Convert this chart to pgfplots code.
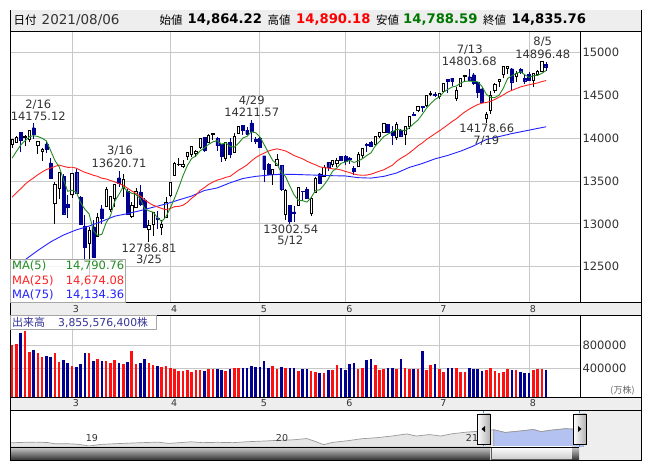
\documentclass[border=0pt]{standalone}
\usepackage{pgfplots}
\pgfplotsset{compat=1.18}
\usepackage{pgfplotstable}
\usepackage{fontspec}
\setmainfont{DejaVu Sans}
\newfontfamily\jp{Noto Sans CJK JP}
\definecolor{cnavy}{HTML}{000091}
\definecolor{vred}{HTML}{FF1010}
\definecolor{gridc}{HTML}{C8C8C8}
\definecolor{stripg}{HTML}{EEEEEE}
\definecolor{maG}{HTML}{228B22}
\definecolor{maR}{HTML}{FF2222}
\definecolor{maB}{HTML}{2222FF}
\definecolor{txtg}{HTML}{333333}
\definecolor{volt}{HTML}{333399}
\definecolor{hiR}{HTML}{FF0000}
\definecolor{loG}{HTML}{007700}
\definecolor{navfill}{HTML}{E6E6E6}
\definecolor{navline}{HTML}{999999}
\definecolor{navblue}{HTML}{B4C2F2}
\definecolor{navedge}{HTML}{3399DD}
\newcommand{\fs}[1]{\fontsize{#1}{#1}\selectfont}

% up candles (close >= open): index, open, high, low, close, volume (10k shares)
\pgfplotstableread{
i o h l c v
0 13929 13993 13887 13988 807000
1 13953 14032 13951 14008 824000
3 14007 14036 13904 14026 1047000
4 13988 14096 13951 14095 692000
6 13915 13966 13820 13965 664000
7 13848 13887 13738 13865 606000
10 13238 13490 13003 13465 664000
11 13413 13598 13289 13598 520000
14 13339 13594 13307 13589 446000
18 12777 12961 12397 12920 664000
20 12854 13129 12851 13074 566000
22 13206 13434 13206 13399 532000
23 13174 13320 13142 13320 503000
24 13300 13460 13198 13460 549000
26 13413 13577 13320 13525 480000
28 13088 13260 13072 13215 704000
29 13194 13423 13185 13378 480000
32 12930 13040 12786.81 12978 492000
33 12994 13142 12855 13139 463000
35 12960 13048 12865 12996 434000
36 13075 13313 13074 13247 446000
37 13327 13481 13320 13480 417000
38 13568 13720 13567 13706 389000
39 13690 13772 13678 13698 360000
40 13677 13743 13654 13689 360000
41 13789 13842 13752 13829 377000
42 13812 13900 13779 13900 343000
43 13824 13868 13787 13850 377000
44 13894 13998 13878 13996 377000
46 13947 14049 13946 14039 395000
47 14040 14062 13976 14052 395000
50 13769 13953 13735 13950 360000
52 13832 14061 13826 14017 406000
53 14051 14146 14047 14139 412000
61 13574 13640 13452 13633 446000
62 13688 13815 13687 13752 400000
64 13109 13407 13046 13389 417000
67 13213 13431 13209 13430 360000
70 13124 13309 13096 13300 366000
71 13363 13552 13361 13536 338000
73 13554 13687 13553 13661 331000
75 13691 13750 13667 13738 377000
76 13702 13770 13666 13736 463000
81 13676 13836 13676 13814 395000
82 13797 13888 13770 13882 420000
85 13924 14024 13910 14020 463000
86 14018 14076 14000 14069 377000
87 14064 14176 14057 14174 395000
90 14011 14191 13980 14161 395000
92 14041 14142 13920 14141 412000
93 14144 14263 14107 14253 395000
95 14326 14370 14303 14370 395000
97 14380 14506 14370 14501 377000
98 14514 14548 14488 14528 463000
100 14493 14523 14458 14522 395000
101 14546 14645 14546 14639 343000
104 14466 14596 14434 14560 412000
105 14607 14707 14597 14702 343000
106 14720 14741 14667 14733 343000
111 14233 14311 14178.66 14275 377000
112 14323 14555 14288 14499 412000
113 14554 14641 14533 14632 360000
114 14664 14685 14602 14685 326000
115 14740 14840 14703 14837 343000
116 14820 14847 14753 14841 395000
118 14725 14782 14661 14763 377000
122 14672 14761 14599 14761 377000
123 14740 14794 14729 14781 395000
124 14781 14896.48 14771 14895 395000
}\up

% down candles (close < open)
\pgfplotstableread{
i o h l c v
2 14067 14068 13836 13973 1018000
5 14124 14175.12 13997 14048 721000
8 13936 13969 13831 13874 618000
9 13712 13771 13527 13533 606000
12 13559 13588 13108 13119 549000
13 13229 13342 13071 13192 492000
15 13601 13640 13359 13359 434000
16 13312 13327 12994 12998 480000
17 12973 13099 12554 12723 664000
19 12967 13046 12609 12609 532000
21 13178 13225 12996 13069 532000
25 13540 13620.71 13434 13472 503000
27 13378 13408 13114 13116 520000
30 13373 13460 13213 13228 492000
31 13283 13299 12954 12962 566000
34 13073 13148 12938 13060 446000
45 14011 14014 13841 13858 366000
48 13999 14017 13852 13915 395000
49 13927 13931 13725 13786 377000
51 13956 14005 13766 13818 400000
54 14151 14154 14042 14090 412000
55 14095 14136 14034 14051 412000
56 14180 14211.57 13962 14083 446000
57 13990 14010 13930 13963 429000
58 14001 14016 13882 13895 429000
59 13796 13796 13485 13634 532000
60 13693 13710 13570 13582 417000
63 13682 13685 13389 13402 429000
65 13217 13224 13002.54 13032 412000
66 13140 13211 13028 13125 412000
68 13384 13385 13262 13379 389000
69 13401 13436 13303 13304 389000
72 13586 13592 13466 13471 321000
74 13718 13719 13617 13657 377000
77 13792 13798 13735 13749 406000
78 13792 13803 13683 13736 377000
79 13770 13780 13701 13756 480000
80 13649 13678 13575 13615 492000
83 13930 13943 13841 13925 549000
84 13954 13966 13904 13912 566000
88 14163 14168 14060 14073 412000
89 14078 14138 13927 14040 412000
91 14091 14105 14016 14030 566000
94 14281 14308 14260 14272 395000
96 14373 14374 14305 14360 704000
99 14518 14537 14479 14504 480000
102 14685 14686 14527 14664 412000
103 14702 14704 14605 14665 412000
107 14719 14803.68 14676 14678 412000
108 14742 14762 14625 14645 395000
109 14656 14663 14474 14543 395000
110 14579 14601 14419 14427 360000
117 14812 14822 14552 14661 377000
119 14808 14817 14755 14778 343000
120 14700 14741 14639 14673 326000
121 14748 14777 14666 14681 326000
125 14864.22 14890.18 14788.59 14835.76 385557
}\dn

% moving averages 5 and 25
\pgfplotstableread{
i m5 m25
0 13769 13312
1 13848 13364
2 13921 13410
3 13970 13462
4 14018 13503
5 14030 13537
6 14021 13574
7 14000 13606
8 13969 13635
9 13857 13652
10 13740 13671
11 13667 13687
12 13518 13673
13 13381 13660
14 13393 13662
15 13371 13651
16 13251 13625
17 13172 13603
18 13118 13587
19 12922 13568
20 12865 13555
21 12879 13533
22 13014 13525
23 13094 13507
24 13264 13491
25 13344 13470
26 13435 13451
27 13379 13417
28 13358 13384
29 13341 13355
30 13292 13323
31 13180 13282
32 13152 13247
33 13137 13218
34 13073 13199
35 13027 13180
36 13084 13166
37 13184 13180
38 13298 13201
39 13425 13205
40 13564 13218
41 13680 13252
42 13764 13299
43 13793 13336
44 13853 13391
45 13887 13423
46 13929 13462
47 13959 13488
48 13972 13512
49 13930 13525
50 13948 13544
51 13904 13555
52 13897 13591
53 13942 13628
54 14003 13657
55 14023 13690
56 14076 13735
57 14065 13774
58 14016 13804
59 13925 13827
60 13831 13851
61 13741 13866
62 13699 13877
63 13601 13865
64 13552 13852
65 13442 13826
66 13340 13798
67 13276 13779
68 13271 13760
69 13254 13733
70 13308 13710
71 13390 13690
72 13398 13667
73 13454 13657
74 13525 13652
75 13613 13643
76 13653 13640
77 13708 13629
78 13723 13613
79 13743 13600
80 13718 13582
81 13734 13572
82 13761 13568
83 13798 13570
84 13830 13581
85 13911 13598
86 13962 13616
87 14020 13632
88 14050 13659
89 14075 13685
90 14103 13731
91 14096 13767
92 14089 13795
93 14125 13830
94 14171 13869
95 14213 13912
96 14279 13945
97 14351 13986
98 14406 14020
99 14453 14054
100 14483 14086
101 14539 14122
102 14571 14158
103 14599 14196
104 14610 14228
105 14646 14271
106 14665 14308
107 14668 14340
108 14664 14369
109 14660 14394
110 14605 14410
111 14514 14418
112 14478 14431
113 14475 14454
114 14504 14480
115 14586 14507
116 14699 14539
117 14731 14560
118 14757 14580
119 14776 14600
120 14743 14613
121 14711 14625
122 14731 14636
123 14735 14646
124 14758 14662
125 14790.76 14674.08
}\ma

% moving average 75 (read every third session)
\pgfplotstableread{
i m75
0 12480
3 12580
6 12690
9 12790
12 12870
15 12930
18 12975
21 13030
24 13090
27 13120
30 13155
33 13195
36 13233
39 13280
42 13325
45 13390
48 13420
51 13480
54 13530
57 13555
60 13570
63 13580
66 13578
69 13573
72 13568
75 13563
78 13560
81 13540
84 13535
87 13555
90 13595
93 13660
96 13705
99 13760
102 13800
105 13850
108 13910
111 13985
114 14020
117 14055
120 14085
123 14115
125 14134.36
}\mab

% navigator (long-term)
\pgfplotstableread{
t y
2018.56 7750
2018.62 7950
2018.70 8100
2018.76 7900
2018.80 7300
2018.86 7350
2018.92 7100
2018.98 6250
2019.04 7000
2019.12 7350
2019.20 7650
2019.28 7900
2019.34 8100
2019.40 7500
2019.46 7850
2019.52 8250
2019.58 7850
2019.66 8000
2019.74 7850
2019.82 8300
2019.90 8600
2019.98 8950
2020.06 9200
2020.13 9800
2020.17 8600
2020.22 6900
2020.27 8000
2020.35 8800
2020.42 9700
2020.50 10200
2020.58 11000
2020.66 12000
2020.71 11000
2020.78 11700
2020.84 11000
2020.90 12100
2020.98 12900
2021.06 13400
2021.12 14000
2021.18 12700
2021.25 13300
2021.33 14100
2021.37 13100
2021.42 13750
2021.50 14500
2021.55 14250
2021.60 14840
}\nav

\pgfplotsset{
  pbase/.style={at={(10pt,168pt)}, anchor=south west, scale only axis,
    width=570pt, height=271pt, xmin=-0.515, xmax=132.94, ymin=12088, ymax=15253},
}

\begin{document}
\begin{tikzpicture}[x=1pt,y=1pt]
% backgrounds
\fill[white] (0,0) rectangle (653,470);
\fill[stripg] (10,10) rectangle (641,460);
\fill[white] (10,168) rectangle (641,439);
\fill[white] (10,73) rectangle (641,155);
\fill[white] (10,23) rectangle (579,60);

% ---------- price panel: grid, ticks, wicks
\begin{axis}[pbase, axis line style={draw=none}, major tick length=0pt,
  scaled y ticks=false,
  xtick={14,37,58,78,100,121}, xticklabels={3,4,5,6,7,8},
  xticklabel style={font=\fs{9.5}, text=txtg, anchor=center, yshift=-7pt, xshift=4pt},
  ytick={12500,13000,13500,14000,14500,15000},
  yticklabels={12500,13000,13500,14000,14500,15000},
  yticklabel pos=right,
  yticklabel style={font=\fs{11.5}, text=txtg, anchor=west, xshift=-1pt},
  grid=major, grid style={gridc, line width=0.9pt}]
\addplot[draw=none, mark=none, error bars/.cd, y dir=plus, y explicit, error mark=none,
  error bar style={draw=black, line width=0.9pt}]
  table[x=i, y=l, y error plus expr=\thisrow{h}-\thisrow{l}] {\up};
\addplot[draw=none, mark=none, error bars/.cd, y dir=plus, y explicit, error mark=none,
  error bar style={draw=cnavy, line width=0.9pt}]
  table[x=i, y=l, y error plus expr=\thisrow{h}-\thisrow{l}] {\dn};
\end{axis}

% ---------- up bodies (hollow)
\begin{axis}[pbase, hide axis, ybar stacked, bar width=2.3pt]
\addplot[draw=none, fill=none] table[x=i, y=o] {\up};
\addplot[draw=black, fill=white, line width=0.85pt] table[x=i, y expr=\thisrow{c}-\thisrow{o}] {\up};
\end{axis}

% ---------- down bodies (filled)
\begin{axis}[pbase, hide axis, ybar stacked, bar width=2.9pt]
\addplot[draw=none, fill=none] table[x=i, y=c] {\dn};
\addplot[draw=cnavy, fill=cnavy, line width=0.3pt] table[x=i, y expr=\thisrow{o}-\thisrow{c}] {\dn};
\end{axis}

% ---------- moving averages
\begin{axis}[pbase, hide axis]
\addplot[maB, line width=0.9pt, mark=none] table[x=i, y=m75] {\mab};
\addplot[maR, line width=0.9pt, mark=none] table[x=i, y=m25] {\ma};
\addplot[maG, line width=0.9pt, mark=none] table[x=i, y=m5] {\ma};
\end{axis}

% ---------- volume panel
\begin{axis}[at={(10pt,73pt)}, anchor=south west, scale only axis, width=570pt, height=82pt,
  xmin=-0.515, xmax=132.94, ymin=-85800, ymax=1321900,
  axis line style={draw=none}, major tick length=0pt, scaled y ticks=false,
  xtick={14,37,58,78,100,121}, xticklabels={3,4,5,6,7,8},
  xticklabel style={font=\fs{9.5}, text=txtg, anchor=center, yshift=-6.5pt, xshift=4pt},
  ytick={400000,800000}, yticklabels={400000,800000},
  yticklabel pos=right,
  yticklabel style={font=\fs{11.5}, text=txtg, anchor=west, xshift=-1pt},
  grid=major, grid style={gridc, line width=0.9pt}]
\addplot[draw=none, mark=none, error bars/.cd, y dir=minus, y explicit, error mark=none,
  error bar style={draw=vred, line width=2.6pt}]
  table[x=i, y=v, y error minus expr=\thisrow{v}+85800] {\up};
\addplot[draw=none, mark=none, error bars/.cd, y dir=minus, y explicit, error mark=none,
  error bar style={draw=cnavy, line width=2.6pt}]
  table[x=i, y=v, y error minus expr=\thisrow{v}+85800] {\dn};
\end{axis}

% ---------- navigator
\begin{axis}[at={(10pt,23pt)}, anchor=south west, scale only axis, width=631pt, height=34pt,
  xmin=2018.561, xmax=2021.899, ymin=5773, ymax=21995, hide axis]
\addplot[fill=navfill, draw=navline, line width=0.7pt, mark=none] table[x=t, y=y] {\nav} \closedcycle;
\addplot[fill=navblue, draw=navline, line width=0.7pt, mark=none, restrict x to domain=2021.105:2021.7]
  table[x=t, y=y] {\nav} \closedcycle;
\end{axis}
\fill[white] (10,57) rectangle (579,60);
\fill[stripg] (584,23) rectangle (641,60);
\draw[navedge, line width=0.8pt] (483,23) -- (483,60);
\draw[navedge, line width=0.8pt] (579,23) -- (579,60);
\node[font=\fs{9.5}, text=txtg] at (92,32) {19};
\node[font=\fs{9.5}, text=txtg] at (282,32) {20};
\node[font=\fs{9.5}, text=txtg] at (472,32) {21};
% handles
\shade[left color=white, right color=gray!60, draw=black, line width=0.6pt] (477,26) rectangle (490,56);
\shade[left color=white, right color=gray!60, draw=black, line width=0.6pt] (573,26) rectangle (586,56);
\fill[black] (481.5,41) -- (485,44) -- (485,38) -- cycle;
\fill[black] (581.5,41) -- (578,44) -- (578,38) -- cycle;
% scrollbar
\shade[top color=gray!40, bottom color=black!80] (10,10) rectangle (490,23);
\shade[top color=white, bottom color=gray!40, draw=gray!70!black] (491,11) rectangle (572,23);
\shade[top color=gray!40, bottom color=black!80] (572,10) rectangle (579,23);
\draw[black, line width=0.6pt] (10,23) -- (579,23);

% ---------- frame lines
\draw[black, line width=0.9pt] (10,10) rectangle (641,460);
\draw[black, line width=0.8pt] (10,439) -- (641,439);
\draw[black, line width=0.8pt] (10,168) -- (641,168);
\draw[black, line width=0.8pt] (10,155) -- (641,155);
\draw[black, line width=0.8pt] (10,73) -- (641,73);
\draw[black, line width=0.8pt] (10,60) -- (641,60);
\draw[black, line width=0.8pt] (580,168) -- (580,439);
\draw[black, line width=0.8pt] (580,73) -- (580,155);

% ---------- header
\fill[stripg] (10.5,439.5) rectangle (640.5,459.5);
\node[anchor=west, inner sep=0pt, font=\jp\fs{11.5}] at (13.5,450) {日付};
\node[anchor=west, inner sep=0pt, font=\fs{13.5}, text=txtg] at (41.5,450) {2021/08/06};
\node[anchor=west, inner sep=0pt, font=\jp\fs{11.5}] at (159.5,450) {始値};
\node[anchor=west, inner sep=0pt, font=\bfseries\fs{13.2}] at (187.5,450) {14,864.22};
\node[anchor=west, inner sep=0pt, font=\jp\fs{11.5}] at (267.5,450) {高値};
\node[anchor=west, inner sep=0pt, font=\bfseries\fs{13.2}, text=hiR] at (296,450) {14,890.18};
\node[anchor=west, inner sep=0pt, font=\jp\fs{11.5}] at (376,450) {安値};
\node[anchor=west, inner sep=0pt, font=\bfseries\fs{13.2}, text=loG] at (403,450) {14,788.59};
\node[anchor=west, inner sep=0pt, font=\jp\fs{11.5}] at (483,450) {終値};
\node[anchor=west, inner sep=0pt, font=\bfseries\fs{13.2}] at (511.5,450) {14,835.76};

% ---------- annotations
\begin{scope}[every node/.style={font=\fs{11.5}, text=txtg, inner sep=0pt}]
\node at (38.3,365) {2/16};
\node at (38.3,353.3) {14175.12};
\node at (120,319) {3/16};
\node at (119,307) {13620.71};
\node at (149,222) {12786.81};
\node at (149,210) {3/25};
\node at (251.7,369.7) {4/29};
\node at (251.7,358) {14211.57};
\node at (290.8,240.7) {13002.54};
\node at (290.3,229.2) {5/12};
\node at (469.7,420.7) {7/13};
\node at (469.3,408.3) {14803.68};
\node at (486.7,341.7) {14178.66};
\node at (486.3,329.3) {7/19};
\node at (542.7,428.3) {8/5};
\node at (542.8,416) {14896.48};
\end{scope}

% ---------- MA legend box
\fill[white, opacity=0.8] (10.5,168) rectangle (125.7,210.7);
\draw[gray!70, line width=0.8pt] (10.5,168) rectangle (125.7,210.7);
\node[anchor=west, inner sep=0pt, font=\fs{11.5}, text=maG] at (12,203.8) {MA(5)};
\node[anchor=east, inner sep=0pt, font=\fs{11.5}, text=maG] at (124.5,203.8) {14,790.76};
\node[anchor=west, inner sep=0pt, font=\fs{11.5}, text=maR] at (12,189.3) {MA(25)};
\node[anchor=east, inner sep=0pt, font=\fs{11.5}, text=maR] at (124.5,189.3) {14,674.08};
\node[anchor=west, inner sep=0pt, font=\fs{11.5}, text=maB] at (12,175.3) {MA(75)};
\node[anchor=east, inner sep=0pt, font=\fs{11.5}, text=maB] at (124.5,175.3) {14,134.36};

% ---------- volume title box
\fill[white, opacity=0.8] (10.5,140.7) rectangle (156.7,154.6);
\draw[gray!70, line width=0.8pt] (10.5,140.7) rectangle (156.7,154.6);
\node[anchor=west, inner sep=0pt, font=\jp\fs{11}, text=volt] at (12,147.6) {出来高};
\node[anchor=west, inner sep=0pt, font=\fs{10.8}, text=volt] at (58,147.6) {3,855,576,400{\jp 株}};
\node[font=\jp\fs{9}, text=gray!80!black, inner sep=0pt] at (622.5,79) {(万株)};
\end{tikzpicture}
\end{document}
